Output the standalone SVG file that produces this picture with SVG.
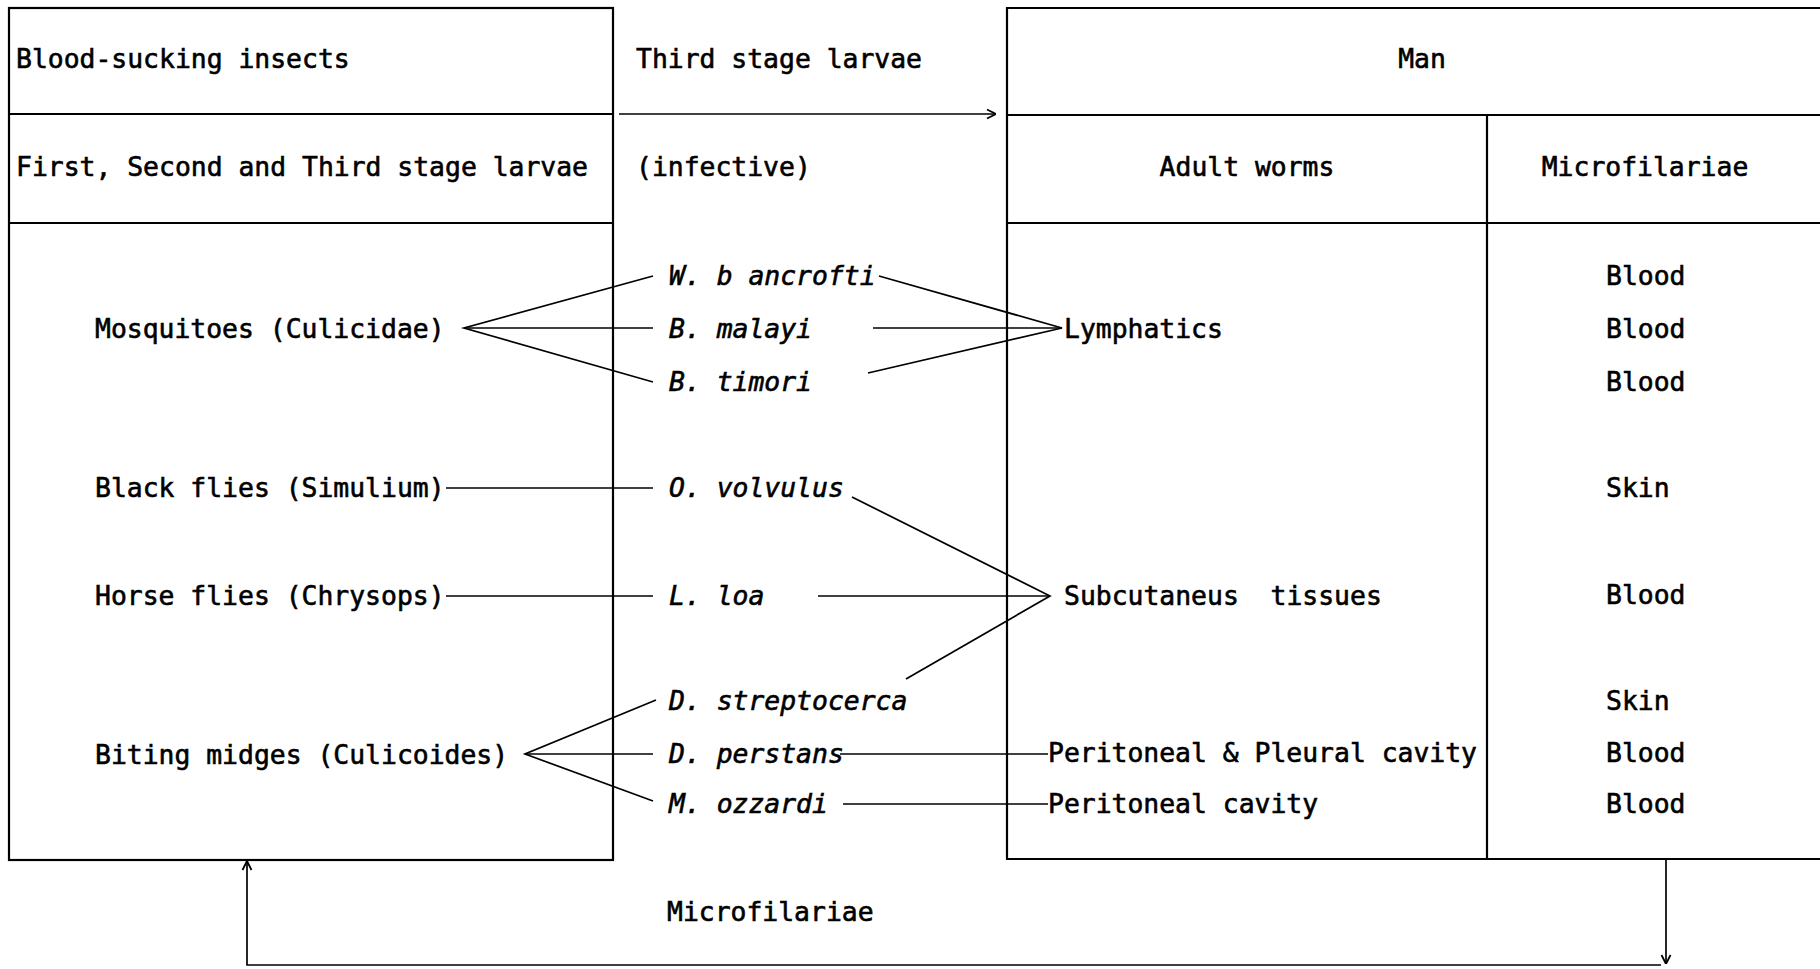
<svg xmlns="http://www.w3.org/2000/svg" width="1820" height="969" viewBox="0 0 1820 969">
  <style>
    .frame { fill: none; stroke: #000; stroke-width: 2.2; }
    .wire { fill: none; stroke: #000; stroke-width: 1.7; }
    text { font-family: "DejaVu Sans Mono", "Liberation Mono", monospace; font-size: 26.4px; fill: #000; stroke: #000; stroke-width: 0.6px; white-space: pre; }
    .sp { font-style: italic; }
    .mid { text-anchor: middle; }
  </style>
  <defs>
    <marker id="chev" viewBox="0 0 10 10" refX="10" refY="5" markerWidth="10" markerHeight="13" markerUnits="userSpaceOnUse" orient="auto">
      <path d="M1,0.5 L10,5 L1,9.5" fill="none" stroke="#000" stroke-width="1.8"/>
    </marker>
  </defs>
  <rect width="1820" height="969" fill="#fff"/>

  <!-- vector (insect) table -->
  <g id="vector-table">
    <rect class="frame" x="9" y="8" width="604" height="852"/>
    <line class="frame" x1="9" y1="114" x2="613" y2="114"/>
    <line class="frame" x1="9" y1="223" x2="613" y2="223"/>
    <text x="16" y="68">Blood-sucking insects</text>
    <text x="16" y="176">First, Second and Third stage larvae</text>
  </g>

  <!-- human host table (open to the right) -->
  <g id="host-table">
    <path class="frame" d="M1822,8 H1007 V859 H1822"/>
    <line class="frame" x1="1007" y1="115" x2="1822" y2="115"/>
    <line class="frame" x1="1007" y1="223" x2="1822" y2="223"/>
    <line class="frame" x1="1487" y1="115" x2="1487" y2="859"/>
    <text class="mid" x="1422" y="68">Man</text>
    <text class="mid" x="1247" y="176">Adult worms</text>
    <text class="mid" x="1645" y="176">Microfilariae</text>
  </g>

  <g id="larvae-label">
    <text x="636" y="68">Third stage larvae</text>
    <text x="636" y="176">(infective)</text>
  </g>

  <!-- insect vectors -->
  <g id="mosquitoes"><text x="95" y="338">Mosquitoes (Culicidae)</text></g>
  <g id="black-flies"><text x="95" y="497">Black flies (Simulium)</text></g>
  <g id="horse-flies"><text x="95" y="605">Horse flies (Chrysops)</text></g>
  <g id="biting-midges"><text x="95" y="764">Biting midges (Culicoides)</text></g>

  <!-- filarial species -->
  <g id="w-bancrofti"><text class="sp" x="669" y="285">W. b ancrofti</text></g>
  <g id="b-malayi"><text class="sp" x="669" y="338">B. malayi</text></g>
  <g id="b-timori"><text class="sp" x="669" y="391">B. timori</text></g>
  <g id="o-volvulus"><text class="sp" x="669" y="497">O. volvulus</text></g>
  <g id="l-loa"><text class="sp" x="669" y="605">L. loa</text></g>
  <g id="d-streptocerca"><text class="sp" x="669" y="710">D. streptocerca</text></g>
  <g id="d-perstans"><text class="sp" x="669" y="763">D. perstans</text></g>
  <g id="m-ozzardi"><text class="sp" x="669" y="813">M. ozzardi</text></g>

  <!-- adult worm sites -->
  <g id="lymphatics"><text x="1064" y="338">Lymphatics</text></g>
  <g id="subcutaneous"><text x="1064" y="605" xml:space="preserve">Subcutaneus  tissues</text></g>
  <g id="peritoneal-pleural"><text x="1048" y="762">Peritoneal &amp; Pleural cavity</text></g>
  <g id="peritoneal"><text x="1048" y="813">Peritoneal cavity</text></g>

  <!-- microfilaria sites -->
  <g id="mf-sites">
    <text x="1606" y="285">Blood</text>
    <text x="1606" y="338">Blood</text>
    <text x="1606" y="391">Blood</text>
    <text x="1606" y="497">Skin</text>
    <text x="1606" y="604">Blood</text>
    <text x="1606" y="710">Skin</text>
    <text x="1606" y="762">Blood</text>
    <text x="1606" y="813">Blood</text>
  </g>

  <g id="mf-label"><text x="667" y="921">Microfilariae</text></g>

  <g id="connectors">
    <!-- infective larvae pass to man -->
    <line class="wire" x1="619" y1="114" x2="996" y2="114" marker-end="url(#chev)"/>
    <!-- microfilariae return to insects -->
    <line class="wire" x1="1666" y1="860" x2="1666" y2="964" marker-end="url(#chev)"/>
    <polyline class="wire" points="1661,965 247,965 247,861" marker-end="url(#chev)"/>

    <!-- vectors to species -->
    <polyline class="wire" points="653,276 464,328 653,382"/>
    <line class="wire" x1="464" y1="328" x2="653" y2="328"/>
    <line class="wire" x1="446" y1="488" x2="653" y2="488"/>
    <line class="wire" x1="446" y1="596" x2="653" y2="596"/>
    <polyline class="wire" points="656,700 525,754 653,801"/>
    <line class="wire" x1="525" y1="754" x2="653" y2="754"/>

    <!-- species to adult worm sites -->
    <polyline class="wire" points="879,276 1062,328 868,373"/>
    <line class="wire" x1="873" y1="328" x2="1062" y2="328"/>
    <polyline class="wire" points="852,497 1050,596 906,679"/>
    <line class="wire" x1="818" y1="596" x2="1050" y2="596"/>
    <line class="wire" x1="840" y1="754" x2="1048" y2="754"/>
    <line class="wire" x1="843" y1="804" x2="1048" y2="804"/>
  </g>
</svg>
